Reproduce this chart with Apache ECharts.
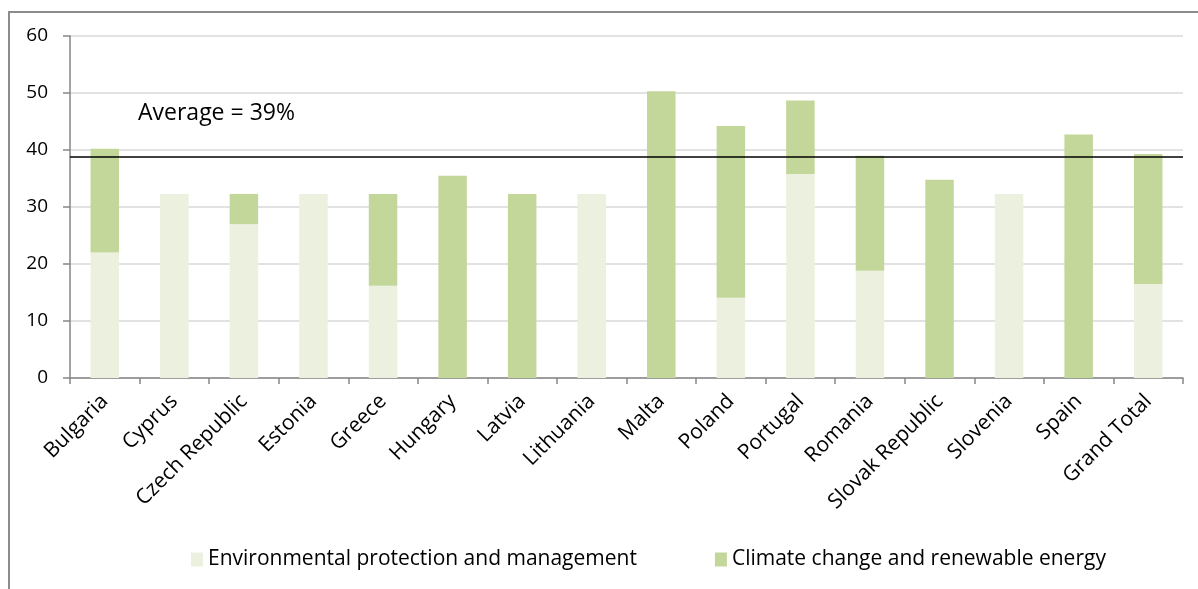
<!DOCTYPE html>
<html>
<head>
<meta charset="utf-8">
<script src="https://cdn.jsdelivr.net/npm/echarts@6/dist/echarts.min.js"></script>
<style>
html,body{margin:0;padding:0;background:#fff;}
#frame{position:absolute;left:8px;top:11px;width:1190px;height:578px;border-top:2px solid #8c8c8c;border-left:2px solid #8c8c8c;box-sizing:border-box;}
#chart{position:absolute;left:0;top:0;width:1198px;height:589px;}
</style>
</head>
<body>
<div id="frame"></div>
<div id="chart"></div>
<script>
const categories = ["Bulgaria","Cyprus","Czech Republic","Estonia","Greece","Hungary","Latvia","Lithuania","Malta","Poland","Portugal","Romania","Slovak Republic","Slovenia","Spain","Grand Total"];
const envProtection = [22.0, 32.3, 27.0, 32.3, 16.2, 0, 0, 32.3, 0, 14.1, 35.8, 18.8, 0, 32.3, 0, 16.5];
const climateChange = [18.2, 0, 5.3, 0, 16.1, 35.5, 32.3, 0, 50.3, 30.1, 12.9, 20.2, 34.8, 0, 42.7, 22.8];
const averageValue = 38.8;
const averageLabel = "Average = 39%";
const yTicks = [0, 10, 20, 30, 40, 50, 60];
const seriesNames = ["Environmental protection and management", "Climate change and renewable energy"];

const font = "'Open Sans', Lato, sans-serif";
const chart = echarts.init(document.getElementById('chart'), null, {renderer: 'canvas'});
chart.setOption({
  animation: false,
  backgroundColor: 'transparent',
  grid: {left: 70, right: 15, top: 36, bottom: 211, containLabel: false},
  legend: {
    bottom: 14, left: 186,
    itemGap: 78, itemWidth: 12, itemHeight: 14,
    icon: 'rect',
    textStyle: {fontFamily: font, fontSize: 21, color: '#000'},
    data: seriesNames
  },
  xAxis: {
    type: 'category',
    data: categories,
    boundaryGap: true,
    axisLine: {lineStyle: {color: '#868686', width: 1.5}},
    axisTick: {show: true, alignWithLabel: false, length: 6, lineStyle: {color: '#868686', width: 1.5}},
    axisLabel: {rotate: 45, interval: 0, fontFamily: font, fontSize: 21, color: '#000', margin: 20}
  },
  yAxis: {
    type: 'value',
    min: yTicks[0], max: yTicks[yTicks.length - 1], interval: 10,
    axisLine: {show: true, lineStyle: {color: '#868686', width: 1.5}},
    axisTick: {show: true, length: 7, lineStyle: {color: '#868686', width: 1.5}},
    splitLine: {lineStyle: {color: '#d9d9d9', width: 1.5}},
    axisLabel: {fontFamily: font, fontSize: 19, color: '#000', margin: 22}
  },
  series: [
    {
      name: seriesNames[0], type: 'bar', stack: 'total',
      data: envProtection, barWidth: '41%',
      itemStyle: {color: '#ebf1de'}
    },
    {
      name: seriesNames[1], type: 'bar', stack: 'total',
      data: climateChange, barWidth: '41%',
      itemStyle: {color: '#c4d79b'},
      markLine: {
        silent: true, symbol: 'none',
        lineStyle: {color: '#000', type: 'solid', width: 1.5},
        label: {show: false},
        data: [{yAxis: averageValue}]
      }
    }
  ],
  graphic: [{
    type: 'text', left: 138, top: 102,
    style: {text: averageLabel, font: "23px 'Open Sans', Lato, sans-serif", fill: '#000'}
  }]
});
</script>
</body>
</html>
